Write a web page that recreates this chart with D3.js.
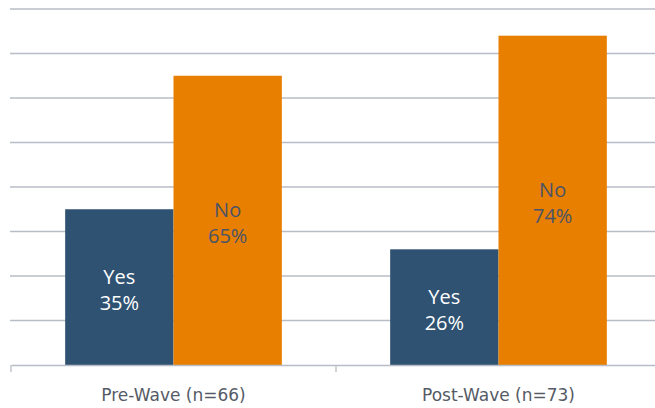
<!DOCTYPE html>
<html>
<head>
<meta charset="utf-8">
<script src="https://cdn.jsdelivr.net/npm/d3@7"></script>
<style>
  body { margin: 0; background: #fff; }
  text { font-family: "Open Sans", sans-serif; }
</style>
</head>
<body>
<script>
const width = 655;
const height = 408;

const waves = ["Pre-Wave (n=66)", "Post-Wave (n=73)"];
const answers = ["Yes", "No"];
const yesValues = [35, 26];
const noValues = [65, 74];
const yTicks = [0, 10, 20, 30, 40, 50, 60, 70, 80];
const colors = ["#2f5272", "#e87f00"];
const labelColors = ["#ffffff", "#4a5468"];

const rows = waves.map((w, i) => ({ wave: w, values: [yesValues[i], noValues[i]] }));

const margin = { top: 9, right: -6, bottom: 43, left: 11 };

const svg = d3.select("body").append("svg")
  .attr("width", width)
  .attr("height", height);

const x = d3.scaleBand()
  .domain(waves)
  .range([margin.left, width - margin.right])
  .paddingInner(0)
  .paddingOuter(0);

const xSub = d3.scaleBand()
  .domain(answers)
  .range([x.bandwidth() / 6, x.bandwidth() * 5 / 6]);

const y = d3.scaleLinear()
  .domain([0, 80])
  .range([height - margin.bottom, margin.top]);

// gridlines
svg.append("g")
  .selectAll("line")
  .data(yTicks.slice(1))
  .enter()
  .append("line")
  .attr("x1", margin.left - 1)
  .attr("x2", width)
  .attr("y1", d => y(d))
  .attr("y2", d => y(d))
  .attr("stroke", "#b8bcc6")
  .attr("stroke-width", 1.3);

const groups = svg.selectAll(".grp")
  .data(rows)
  .enter()
  .append("g")
  .attr("transform", d => "translate(" + x(d.wave) + ",0)");

groups.selectAll("rect")
  .data(d => d.values.map((v, i) => ({ key: answers[i], v: v, i: i })))
  .enter()
  .append("rect")
  .attr("x", d => xSub(d.key))
  .attr("width", xSub.bandwidth())
  .attr("y", d => y(d.v))
  .attr("height", d => y(0) - y(d.v))
  .attr("fill", d => colors[d.i]);

const lbl = groups.selectAll(".lbl")
  .data(d => d.values.map((v, i) => ({ key: answers[i], v: v, i: i })))
  .enter()
  .append("text")
  .attr("text-anchor", "middle")
  .attr("font-size", 20)
  .attr("fill", d => labelColors[d.i])
  .attr("x", d => xSub(d.key) + xSub.bandwidth() / 2)
  .attr("y", d => (y(d.v) + y(0)) / 2);

lbl.append("tspan")
  .attr("x", d => xSub(d.key) + xSub.bandwidth() / 2)
  .attr("dy", "-0.15em")
  .text(d => d.key);

lbl.append("tspan")
  .attr("x", d => xSub(d.key) + xSub.bandwidth() / 2)
  .attr("dy", "1.3em")
  .text(d => d.v + "%");

// x axis
const xAxis = d3.axisBottom(x).tickSize(0).tickPadding(24);
const ax = svg.append("g")
  .attr("transform", "translate(0," + y(0) + ")")
  .call(xAxis);
ax.select(".domain").attr("stroke", "#b8bcc6").attr("stroke-width", 1.3);
ax.selectAll("text")
  .attr("font-size", 17)
  .attr("fill", "#555b66")
  .style("font-family", "'DejaVu Sans', sans-serif");

// divider ticks between categories
svg.append("g")
  .selectAll("line")
  .data(waves)
  .enter()
  .append("line")
  .attr("x1", d => x(d))
  .attr("x2", d => x(d))
  .attr("y1", y(0))
  .attr("y2", y(0) + 7)
  .attr("stroke", "#b8bcc6")
  .attr("stroke-width", 1.3);
</script>
</body>
</html>
